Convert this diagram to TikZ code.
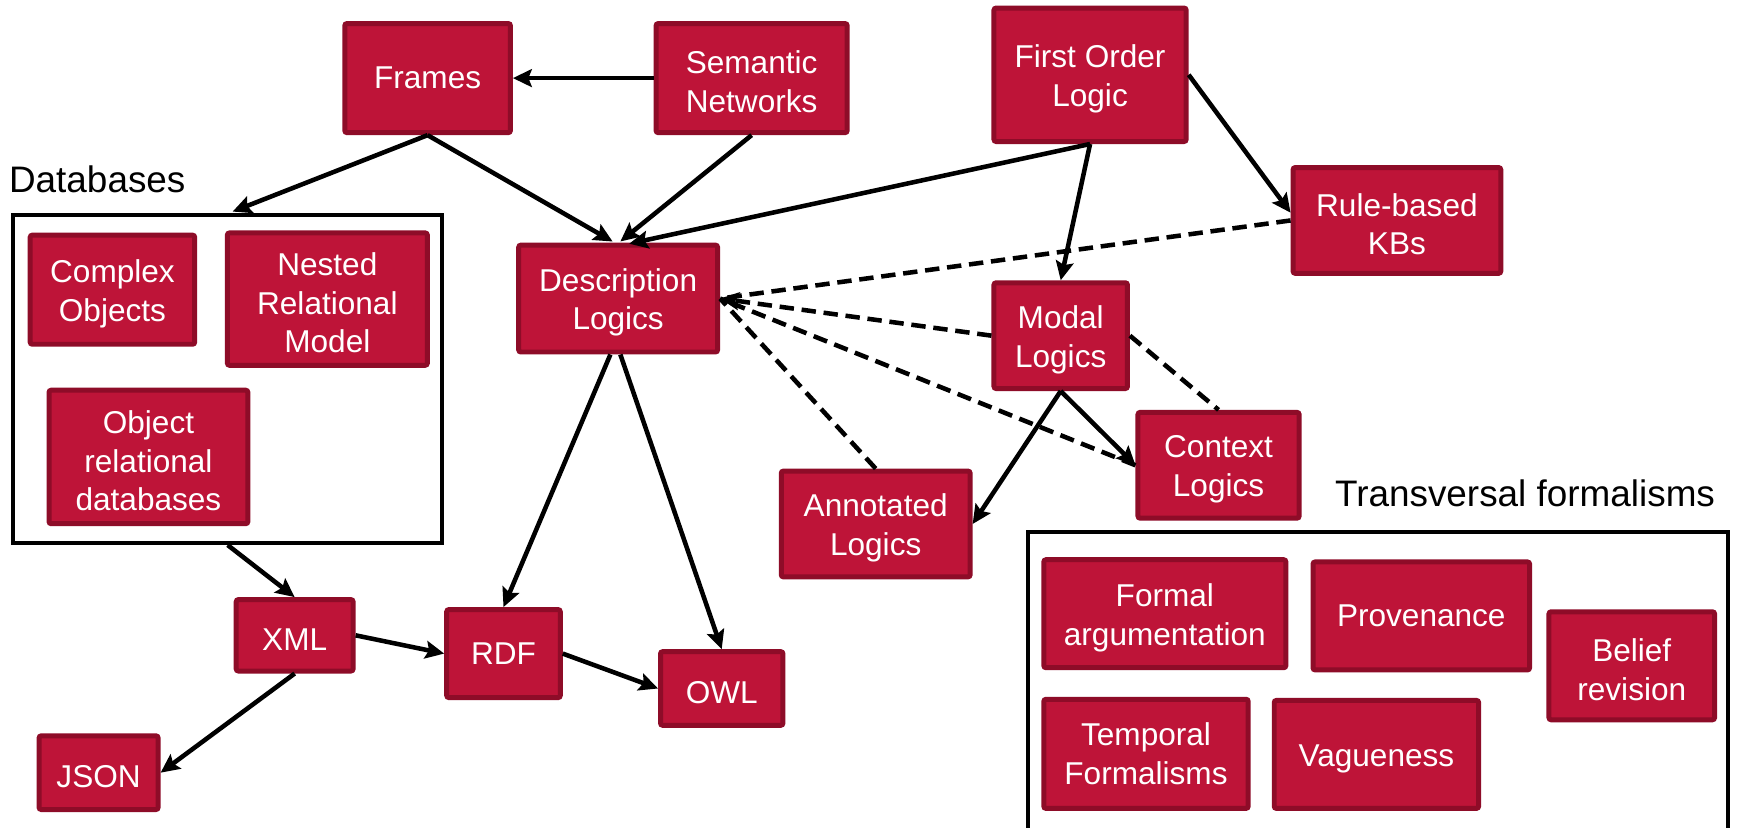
\documentclass[tikz,border=0pt]{standalone}
\usepackage{fontspec}
\setmainfont{Liberation Sans}
\usetikzlibrary{arrows.meta,calc}
\definecolor{boxred}{RGB}{190,20,56}
\definecolor{boxborder}{RGB}{142,12,40}
\newcommand\mytopstrut{\rule{0pt}{27.5pt}}
\tikzset{
  rbox/.style={draw=boxborder, fill=boxred, line width=4.5pt, rounded corners=2pt,
    text=white, align=center, inner sep=0pt, font=\fontsize{28.5}{35}\selectfont},
  groupbox/.style={draw=black, line width=3.8pt, inner sep=0pt},
  grouplabel/.style={font=\fontsize{33.3}{40}\selectfont, inner sep=0pt, anchor=base west},
  link/.style={line width=4.1pt, -{Stealth[length=17pt,width=16pt,inset=3pt]}},
  dlink/.style={line width=4.1pt, dash pattern=on 13pt off 7pt},
}
\begin{document}
\begin{tikzpicture}[x=1pt,y=-1pt]
\useasboundingbox (0,0) rectangle (1568,747);
\fill[white] (0,0) rectangle (1568,747);

% group boxes
\node[groupbox, minimum width=387.2pt, minimum height=296.2pt] (db) at (205.5,342) {};
\node[grouplabel] (dblabel) at (8,174) {Databases};
\node[groupbox, minimum width=632.2pt, minimum height=270.2pt] (tf) at (1244,615) {};
\node[grouplabel] (tflabel) at (1205,457) {Transversal formalisms};

% nodes
\node[rbox, minimum width=149.5pt, minimum height=98.5pt] (frames) at (386,70.5) {Frames};
\node[rbox, minimum width=172.5pt, minimum height=98.5pt] (semnet) at (678.5,70.5) {\mytopstrut Semantic\\Networks};
\node[rbox, minimum width=173.5pt, minimum height=120.5pt] (fol) at (984,67.5) {\mytopstrut First Order\\Logic};
\node[rbox, minimum width=187.5pt, minimum height=95.5pt] (rule) at (1261,199) {\mytopstrut Rule-based\\KBs};
\node[rbox, minimum width=179.5pt, minimum height=96.5pt] (dl) at (558,269.5) {\mytopstrut Description\\Logics};
\node[rbox, minimum width=120.5pt, minimum height=95.5pt] (modal) at (957.5,303) {\mytopstrut Modal\\Logics};
\node[rbox, minimum width=145.5pt, minimum height=95.5pt] (context) at (1100,420) {\mytopstrut Context\\Logics};
\node[rbox, minimum width=170.5pt, minimum height=95.5pt] (annot) at (790.5,473) {\mytopstrut Annotated\\Logics};

\node[rbox, minimum width=148.5pt, minimum height=98.5pt] (complex) at (101.5,261.5) {\mytopstrut Complex\\Objects};
\node[rbox, minimum width=180.5pt, minimum height=119.5pt] (nested) at (295.5,270) {\mytopstrut Nested\\Relational\\Model};
\node[rbox, minimum width=179.5pt, minimum height=120.5pt] (objrel) at (134,412.5) {\mytopstrut Object\\relational\\databases};

\node[rbox, minimum width=105.5pt, minimum height=64.5pt] (xml) at (266,573.5) {\mytopstrut XML};
\node[rbox, minimum width=102.5pt, minimum height=79.5pt] (rdf) at (454.5,590) {RDF};
\node[rbox, minimum width=110.5pt, minimum height=66.5pt] (owl) at (651.5,621.5) {\mytopstrut OWL};
\node[rbox, minimum width=107.5pt, minimum height=66.5pt] (json) at (89,697.5) {\mytopstrut JSON};

\node[rbox, minimum width=218.5pt, minimum height=97.5pt] (formal) at (1051.5,554) {\mytopstrut Formal\\argumentation};
\node[rbox, minimum width=195.5pt, minimum height=97.5pt] (prov) at (1283,556) {Provenance};
\node[rbox, minimum width=149.5pt, minimum height=97.5pt] (belief) at (1473,601) {\mytopstrut Belief\\revision};
\node[rbox, minimum width=184.5pt, minimum height=98.5pt] (temporal) at (1034.5,680.5) {Temporal\\Formalisms};
\node[rbox, minimum width=184.5pt, minimum height=97.5pt] (vague) at (1242.5,681) {\mytopstrut Vagueness};

% coordinates
\coordinate (dbin) at (210,191);
\coordinate (dlA) at ($(dl.north)+(-5,-1)$);
\coordinate (dlB) at ($(dl.north)+(2,-1)$);
\coordinate (dlC) at ($(dl.north)+(10,1)$);
\coordinate (ruleIn) at ($(rule.west)+(0,-7)$);
\coordinate (dlS1) at ($(dl.south)+(-7,0)$);
\coordinate (dlS2) at ($(dl.south)+(2,0)$);

% solid connectors
\draw[link] (semnet.west) -- (frames.east);
\draw[link] (frames.south) -- (dbin);
\draw[link] (frames.south) -- (dlA);
\draw[link] (semnet.south) -- (dlB);
\draw[link] (fol.south) -- (dlC);
\draw[link] (fol.south) -- (modal.north);
\draw[link] (fol.east) -- (ruleIn);
\draw[link] (modal.south) -- (context.west);
\draw[link] (modal.south) -- (annot.east);
\draw[link] (dlS1) -- (rdf.north);
\draw[link] (dlS2) -- (owl.north);
\draw[link] (db.south) -- (xml.north);
\draw[link] (xml.east) -- (rdf.west);
\draw[link] (rdf.east) -- (owl.west);
\draw[link] (xml.south) -- (json.east);

% dashed connectors
\draw[dlink] (rule.west) -- (dl.east);
\draw[dlink, -{Stealth[length=17pt,width=16pt,inset=3pt]}] (modal.west) -- (dl.east);
\draw[dlink] (context.west) -- (dl.east);
\draw[dlink] (annot.north) -- (dl.east);
\draw[dlink] (modal.east) -- (context.north);
\end{tikzpicture}
\end{document}
